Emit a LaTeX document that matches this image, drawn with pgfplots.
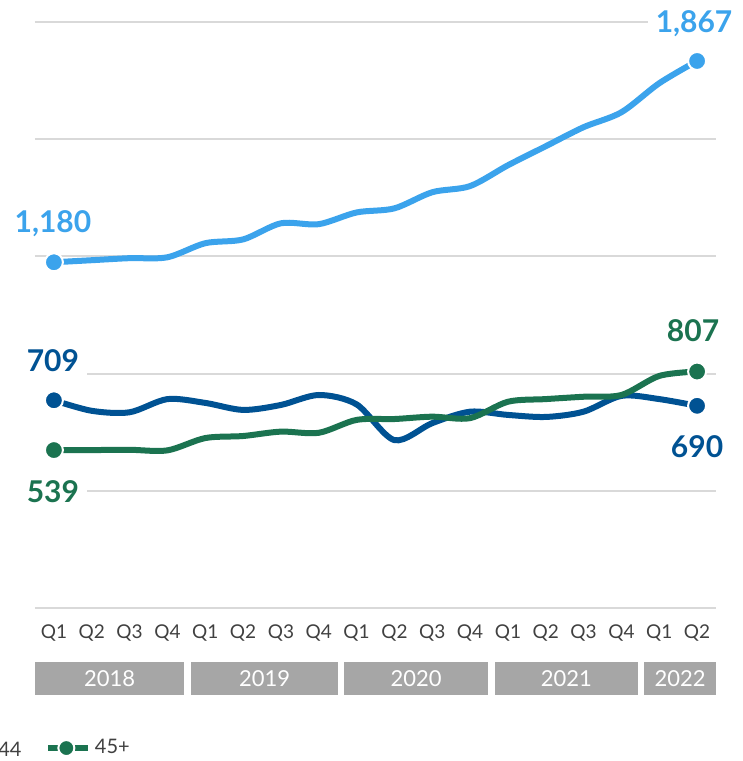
\documentclass[border=0pt]{standalone}
\usepackage{fontspec}
\setmainfont{Lato}
\usepackage{pgfplots}
\pgfplotsset{compat=1.18}

\definecolor{lightblue}{RGB}{59,163,236}
\definecolor{darkblue}{RGB}{0,82,147}
\definecolor{green45}{RGB}{27,115,80}
\definecolor{gridgray}{RGB}{217,217,217}
\definecolor{bargray}{RGB}{166,166,166}
\definecolor{ticktext}{RGB}{64,64,64}

\begin{document}
\begin{tikzpicture}
\begin{axis}[
    name=ax,
    scale only axis,
    width=340.5pt, height=293pt,
    xmin=-0.5, xmax=17.5,
    ymin=0, ymax=2000,
    axis line style={draw=none},
    ytick={0,400,...,2000},
    yticklabels={},
    ymajorgrids,
    grid style={gridgray, line width=1pt},
    xtick={0,...,17},
    xticklabels={Q1,Q2,Q3,Q4,Q1,Q2,Q3,Q4,Q1,Q2,Q3,Q4,Q1,Q2,Q3,Q4,Q1,Q2},
    major tick length=0pt,
    xticklabel style={font=\fontsize{9.5}{11}\selectfont, text=ticktext, yshift=-5pt},
    clip=false,
    legend style={draw=none, fill=none, at={(axis description cs:0.0055,-0.239)},
        anchor=west, font=\fontsize{10}{12}\selectfont, text=ticktext},
    legend image code/.code={
        \draw[green45, line width=3pt] (0cm,0cm) -- (0.7cm,0cm);
        \draw[white, fill=green45, line width=1pt] (0.32cm,0cm) circle (4pt);
    },
]

% light blue
\addplot[lightblue, line width=3pt, smooth, tension=0.5, forget plot,
    mark=*, mark indices={1,18}, mark size=4.5pt,
    mark options={draw=white, fill=lightblue, line width=1pt}]
    coordinates {
    (0,1180) (1,1187) (2,1194) (3,1197) (4,1245) (5,1258) (6,1313) (7,1310) (8,1350)
    (9,1364) (10,1419) (11,1440) (12,1511) (13,1576) (14,1641) (15,1692) (16,1791) (17,1867)
    };

% dark blue
\addplot[darkblue, line width=3pt, smooth, tension=0.5, forget plot,
    mark=*, mark indices={1,18}, mark size=4.5pt,
    mark options={draw=white, fill=darkblue, line width=1pt}]
    coordinates {
    (0,709) (1,673) (2,668) (3,713) (4,700) (5,676) (6,693) (7,727) (8,695)
    (9,573) (10,631) (11,670) (12,659) (13,652) (14,670) (15,724) (16,713) (17,690)
    };

% 45+
\addplot[green45, line width=3pt, smooth, tension=0.5,
    mark=*, mark indices={1,18}, mark size=4.5pt,
    mark options={draw=white, fill=green45, line width=1pt}]
    coordinates {
    (0,539) (1,539) (2,540) (3,538) (4,580) (5,587) (6,602) (7,598) (8,642)
    (9,645) (10,653) (11,648) (12,704) (13,713) (14,721) (15,727) (16,792) (17,807)
    };
\addlegendentry{45+}

% end labels
\node[anchor=base, fill=white, inner sep=4pt, text=lightblue, font=\fontsize{15}{18}\bfseries,
    xshift=-0.5pt, yshift=15pt] at (axis cs:0,1180) {1,180};
\node[anchor=base, fill=white, inner sep=4pt, text=lightblue, font=\fontsize{15}{18}\bfseries,
    xshift=-1.5pt, yshift=14pt] at (axis cs:17,1867) {1,867};
\node[anchor=base, fill=white, inner sep=4pt, text=darkblue, font=\fontsize{15}{18}\bfseries,
    xshift=-0.5pt, yshift=14.5pt] at (axis cs:0,709) {709};
\node[anchor=base, fill=white, inner sep=4pt, text=darkblue, font=\fontsize{15}{18}\bfseries,
    yshift=-26pt] at (axis cs:17,690) {690};
\node[anchor=base, fill=white, inner sep=4pt, text=green45, font=\fontsize{15}{18}\bfseries,
    xshift=-0.5pt, yshift=-26pt] at (axis cs:0,539) {539};
\node[anchor=base, fill=white, inner sep=4pt, text=green45, font=\fontsize{15}{18}\bfseries,
    xshift=-2pt, yshift=15pt] at (axis cs:17,807) {807};

% year bands
\fill[bargray] (axis cs:-0.5,-184.3) rectangle (axis cs:3.44,-296.9);
\fill[bargray] (axis cs:3.62,-184.3) rectangle (axis cs:7.52,-296.9);
\fill[bargray] (axis cs:7.68,-184.3) rectangle (axis cs:11.47,-296.9);
\fill[bargray] (axis cs:11.65,-184.3) rectangle (axis cs:15.44,-296.9);
\fill[bargray] (axis cs:15.6,-184.3) rectangle (axis cs:17.5,-296.9);
\node[text=white, font=\fontsize{11}{13}\selectfont] at (axis cs:1.47,-240.6) {2018};
\node[text=white, font=\fontsize{11}{13}\selectfont] at (axis cs:5.57,-240.6) {2019};
\node[text=white, font=\fontsize{11}{13}\selectfont] at (axis cs:9.575,-240.6) {2020};
\node[text=white, font=\fontsize{11}{13}\selectfont] at (axis cs:13.545,-240.6) {2021};
\node[text=white, font=\fontsize{11}{13}\selectfont] at (axis cs:16.55,-240.6) {2022};

% end of the preceding legend text, cut by the picture's edge
\node[anchor=base east, text=ticktext, font=\fontsize{10}{12}\selectfont,
    inner sep=0pt, xshift=-6.5pt, yshift=-74pt] at (rel axis cs:0,0) {44};
\end{axis}
\pgfresetboundingbox
\path[use as bounding box] ([shift={(-17.5pt,-76.5pt)}]ax.south west)
    rectangle ([shift={(354pt,304pt)}]ax.south west);
\end{tikzpicture}
\end{document}
